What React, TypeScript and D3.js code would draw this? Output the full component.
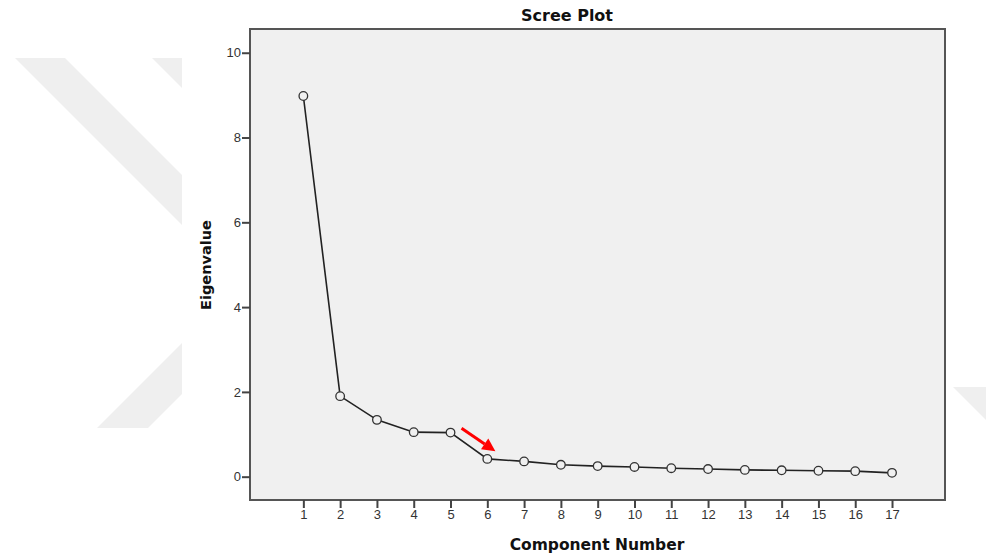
import { useEffect, useRef } from "react";
import * as d3 from "d3";

// component numbers and their eigenvalues
const components = [1, 2, 3, 4, 5, 6, 7, 8, 9, 10, 11, 12, 13, 14, 15, 16, 17];
const eigenvalues = [8.98, 1.9, 1.34, 1.05, 1.04, 0.42, 0.36, 0.28, 0.25, 0.23, 0.2, 0.18, 0.16, 0.15, 0.14, 0.13, 0.09];
const yTicks = [0, 2, 4, 6, 8, 10];

// red annotation arrow, in data units
const arrowFrom = [5.3, 1.14];
const arrowTo = [6.22, 0.6];

function App() {
  const svgRef = useRef<SVGSVGElement>(null);

  useEffect(() => {
    const svg = d3.select(svgRef.current);
    svg.selectAll("*").remove();

    const width = 986;
    const height = 558;
    const plot = { left: 250, right: 945, top: 29, bottom: 500 };

    // faint watermark behind the chart
    const defs = svg.append("defs");
    const clip = defs.append("clipPath").attr("id", "wm-clip");
    clip.append("rect").attr("x", 0).attr("y", 58).attr("width", 182).attr("height", 370);
    clip.append("rect").attr("x", 953).attr("y", 58).attr("width", 33).attr("height", 370);
    const wm = svg.append("g").attr("clip-path", "url(#wm-clip)").attr("fill", "#efefef");
    const band = (x0: number, y0: number, w: number, dir: number) =>
      `M${x0},${y0}L${x0 + w},${y0}L${x0 + w + 400},${y0 + dir * 400}L${x0 + 400},${y0 + dir * 400}Z`;
    wm.append("path").attr("d", band(15, 58, 50, 1));
    wm.append("path").attr("d", band(152, 58, 50, 1));
    wm.append("path").attr("d", band(97, 428, 51, -1));
    wm.append("path").attr("d", band(953, 387, 60, 1));

    const x = d3.scaleLinear().domain([-0.45, 18.44]).range([plot.left, plot.right]);
    const y = d3.scaleLinear().domain([-0.55, 10.56]).range([plot.bottom, plot.top]);

    // plot background
    svg
      .append("rect")
      .attr("x", plot.left)
      .attr("y", plot.top)
      .attr("width", plot.right - plot.left)
      .attr("height", plot.bottom - plot.top)
      .attr("fill", "#f0f0f0")
      .attr("stroke", "#555")
      .attr("stroke-width", 2);

    // axes
    const xAxis = d3.axisBottom(x).tickValues(components).tickSize(8).tickPadding(2).tickFormat(d3.format("d"));
    const yAxis = d3.axisLeft(y).tickValues(yTicks).tickSize(8).tickPadding(1).tickFormat(d3.format("d"));

    const gx = svg.append("g").attr("transform", `translate(0,${plot.bottom})`).call(xAxis);
    const gy = svg.append("g").attr("transform", `translate(${plot.left},0)`).call(yAxis);
    [gx, gy].forEach((g) => {
      g.select(".domain").remove();
      g.selectAll(".tick line").attr("stroke", "#444").attr("stroke-width", 2);
      g.selectAll(".tick text")
        .attr("fill", "#333")
        .style("font-family", "'Liberation Sans', Arial, sans-serif")
        .style("font-size", "13px");
    });

    // scree line
    const pts = components.map((c, i) => [c, eigenvalues[i]] as [number, number]);
    const line = d3
      .line<[number, number]>()
      .x((d) => x(d[0]))
      .y((d) => y(d[1]));
    svg
      .append("path")
      .datum(pts)
      .attr("d", line)
      .attr("fill", "none")
      .attr("stroke", "#222")
      .attr("stroke-width", 1.6);

    svg
      .append("g")
      .selectAll("circle")
      .data(pts)
      .join("circle")
      .attr("cx", (d) => x(d[0]))
      .attr("cy", (d) => y(d[1]))
      .attr("r", 4.3)
      .attr("fill", "#f0f0f0")
      .attr("stroke", "#333")
      .attr("stroke-width", 1.3);

    // red arrow
    const ax0 = x(arrowFrom[0]);
    const ay0 = y(arrowFrom[1]);
    const ax1 = x(arrowTo[0]);
    const ay1 = y(arrowTo[1]);
    const ang = Math.atan2(ay1 - ay0, ax1 - ax0);
    const headLen = 13;
    const headW = 6.5;
    const bx = ax1 - headLen * Math.cos(ang);
    const by = ay1 - headLen * Math.sin(ang);
    svg
      .append("line")
      .attr("x1", ax0)
      .attr("y1", ay0)
      .attr("x2", bx)
      .attr("y2", by)
      .attr("stroke", "#ff0000")
      .attr("stroke-width", 3);
    svg
      .append("path")
      .attr(
        "d",
        `M${ax1},${ay1}L${bx + headW * Math.sin(ang)},${by - headW * Math.cos(ang)}L${bx - headW * Math.sin(ang)},${by + headW * Math.cos(ang)}Z`
      )
      .attr("fill", "#ff0000");

    // titles
    const bold = "'DejaVu Sans', sans-serif";
    svg
      .append("text")
      .attr("x", 567)
      .attr("y", 21)
      .attr("text-anchor", "middle")
      .style("font-family", bold)
      .style("font-weight", "bold")
      .style("font-size", "16px")
      .attr("fill", "#111")
      .text("Scree Plot");
    svg
      .append("text")
      .attr("x", 597)
      .attr("y", 550)
      .attr("text-anchor", "middle")
      .style("font-family", bold)
      .style("font-weight", "bold")
      .style("font-size", "15.5px")
      .attr("fill", "#111")
      .text("Component Number");
    svg
      .append("text")
      .attr("transform", `translate(211,265) rotate(-90)`)
      .attr("text-anchor", "middle")
      .style("font-family", bold)
      .style("font-weight", "bold")
      .style("font-size", "14.5px")
      .attr("fill", "#111")
      .text("Eigenvalue");

    svg.attr("width", width).attr("height", height);
  }, []);

  return (
    <svg
      ref={svgRef}
      width={986}
      height={558}
      style={{ position: "absolute", left: 0, top: 0, background: "#fff" }}
    />
  );
}

export default App;
